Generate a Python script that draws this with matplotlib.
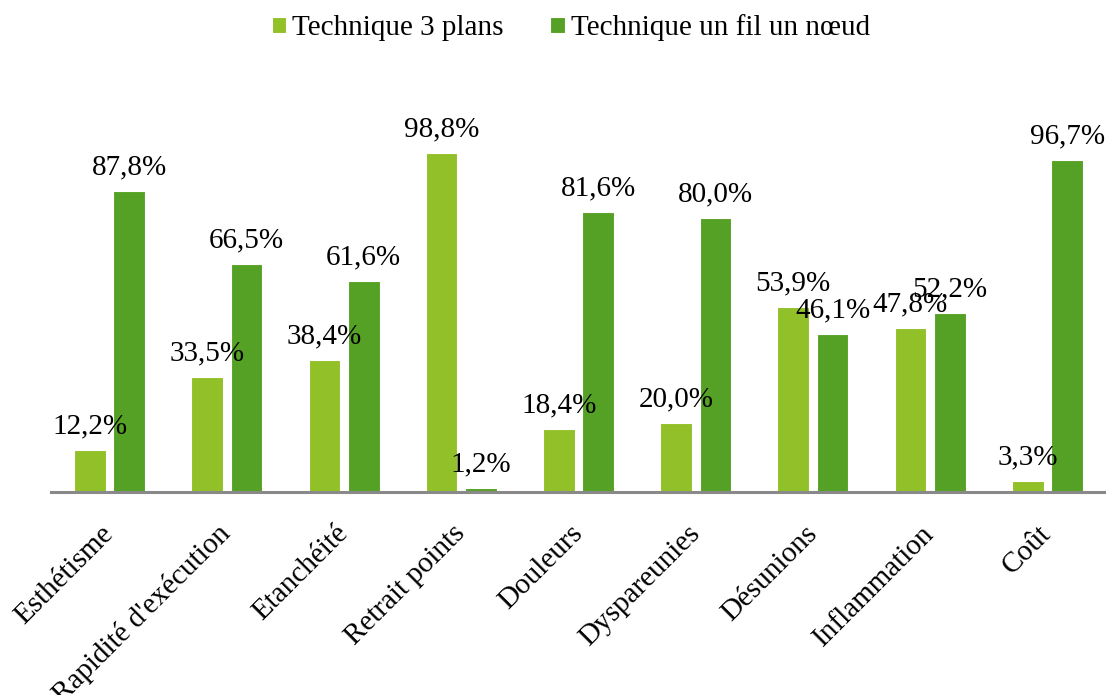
import matplotlib.pyplot as plt
import numpy as np

plt.rcParams['font.family'] = ['Liberation Serif', 'DejaVu Serif']

categories = ["Esthétisme", "Rapidité d'exécution", "Etanchéité", "Retrait points",
              "Douleurs", "Dyspareunies", "Désunions", "Inflammation", "Coût"]
trois_plans = [12.2, 33.5, 38.4, 98.8, 18.4, 20.0, 53.9, 47.8, 3.3]
un_fil = [87.8, 66.5, 61.6, 1.2, 81.6, 80.0, 46.1, 52.2, 96.7]
series_names = ["Technique 3 plans", "Technique un fil un nœud"]

light = '#92C028'
dark = '#55A125'

fig = plt.figure(figsize=(11.06, 6.95), dpi=100)
ax = fig.add_axes([51/1106, 203/695, 1055/1106, 343/695])

x = np.arange(len(categories))
w = 0.27
off = 0.168
b1 = ax.bar(x - off, trois_plans, w, color=light, edgecolor='white', linewidth=0.8,
            label=series_names[0])
b2 = ax.bar(x + off, un_fil, w, color=dark, edgecolor='white', linewidth=0.8,
            label=series_names[1])

for bars, vals in ((b1, trois_plans), (b2, un_fil)):
    for r, v in zip(bars, vals):
        ax.annotate(f"{v:.1f}%".replace('.', ','), (r.get_x() + r.get_width()/2, v),
                    xytext=(0, 12), textcoords='offset points',
                    ha='center', va='baseline', fontsize=21, annotation_clip=False)

ax.set_xlim(-0.5, len(categories) - 0.5)
ax.set_ylim(0, 100)
for s in ('top', 'right', 'left'):
    ax.spines[s].set_visible(False)
ax.spines['bottom'].set_color('#898989')
ax.spines['bottom'].set_linewidth(2.2)
ax.set_yticks([])
ax.set_xticks(x)
ax.set_xticklabels(categories, rotation=45, ha='right', va='center',
                   rotation_mode='anchor', fontsize=21)
ax.tick_params(axis='x', length=0, pad=27)

fig.legend(loc='upper center', bbox_to_anchor=(0.516, 1.017), ncol=2, frameon=False,
           fontsize=21, handlelength=0.5, handleheight=0.5, handletextpad=0.2,
           columnspacing=1.6)

fig.savefig('out.png', dpi=100)
